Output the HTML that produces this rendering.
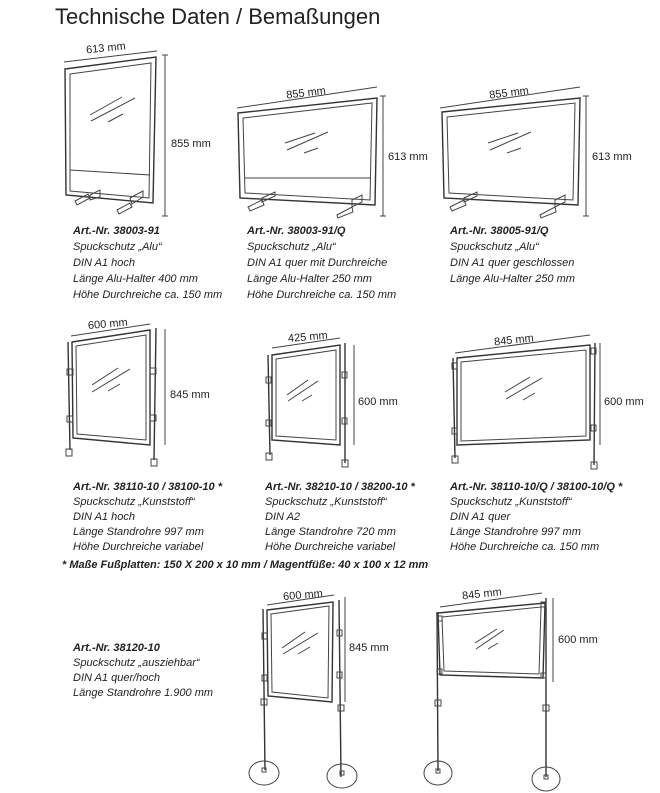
<!DOCTYPE html>
<html><head><meta charset="utf-8"><style>
html,body{margin:0;padding:0;background:#fff;}
svg{display:block;}
.t{font-family:"Liberation Sans",sans-serif;fill:#222;}
.i{font-family:"Liberation Sans",sans-serif;font-style:italic;font-size:11px;fill:#222;}
.b{font-weight:bold;}
.d{font-family:"Liberation Sans",sans-serif;font-size:11px;fill:#222;}
.s{fill:none;stroke:#333;stroke-width:1.4;}
.f{fill:none;stroke:#444;stroke-width:1;}
</style></head><body>
<svg width="660" height="793" viewBox="0 0 660 793">
<text x="55" y="24" class="t" font-size="22" fill="#333">Technische Daten / Bemaßungen</text>

<!-- Panel 1 -->
<polygon class="s" points="65,69 156,57 153,203 66,195"/>
<polygon class="f" points="70,74 151,63 149,198 70,191"/>
<line class="f" x1="70" y1="170" x2="150" y2="175"/>
<line class="f" x1="90" y1="115" x2="122" y2="97"/><line class="f" x1="91" y1="121" x2="135" y2="98"/><line class="f" x1="108" y1="122" x2="123" y2="114"/>
<polygon class="f" points="75,201 88,194 90,198 77,205"/><polygon class="f" points="90,195 100,190 100,197 90,200"/>
<polygon class="f" points="117,210 130,203 132,207 119,214"/><polygon class="f" points="130,198 143,191 143,197 132,204"/>
<line class="f" x1="64" y1="62" x2="157" y2="51"/>
<text x="86" y="52" class="d" transform="rotate(-6 100 48)">613 mm</text>
<line class="f" x1="165" y1="55" x2="165" y2="216"/><line class="f" x1="162" y1="55" x2="168" y2="55"/><line class="f" x1="162" y1="216" x2="168" y2="216"/>
<text x="171" y="147" class="d">855 mm</text>
<text class="i" x="73" y="234"><tspan class="b">Art.-Nr. 38003-91</tspan><tspan x="73" dy="16">Spuckschutz „Alu“</tspan><tspan x="73" dy="16">DIN A1 hoch</tspan><tspan x="73" dy="16">Länge Alu-Halter 400 mm</tspan><tspan x="73" dy="16">Höhe Durchreiche ca. 150 mm</tspan></text>

<!-- Panel 2 -->
<polygon class="s" points="238,113 377,98 375,205 240,198"/>
<polygon class="f" points="243,118 372,103 370,200 245,193"/>
<line class="f" x1="245" y1="178" x2="371" y2="178"/>
<line class="f" x1="285" y1="143" x2="315" y2="133"/><line class="f" x1="287" y1="150" x2="328" y2="132"/><line class="f" x1="304" y1="153" x2="318" y2="148"/>
<polygon class="f" points="248,207 262,200 264,205 250,211"/><polygon class="f" points="262,198 275,192 275,196 262,202"/>
<polygon class="f" points="337,215 352,207 353,212 338,218"/><polygon class="f" points="352,200 362,195 362,202 352,207"/>
<line class="f" x1="237" y1="108" x2="377" y2="87"/>
<text x="286" y="97" class="d" transform="rotate(-7 300 92)">855 mm</text>
<line class="f" x1="383" y1="96" x2="383" y2="216"/><line class="f" x1="380" y1="96" x2="386" y2="96"/><line class="f" x1="380" y1="216" x2="386" y2="216"/>
<text x="388" y="160" class="d">613 mm</text>
<text class="i" x="247" y="234"><tspan class="b">Art.-Nr. 38003-91/Q</tspan><tspan x="247" dy="16">Spuckschutz „Alu“</tspan><tspan x="247" dy="16">DIN A1 quer mit Durchreiche</tspan><tspan x="247" dy="16">Länge Alu-Halter 250 mm</tspan><tspan x="247" dy="16">Höhe Durchreiche ca. 150 mm</tspan></text>

<!-- Panel 3 -->
<polygon class="s" points="442,112 580,98 578,205 444,198"/>
<polygon class="f" points="447,117 575,103 573,200 449,193"/>
<line class="f" x1="488" y1="143" x2="518" y2="133"/><line class="f" x1="490" y1="150" x2="531" y2="132"/><line class="f" x1="507" y1="153" x2="521" y2="148"/>
<polygon class="f" points="450,207 464,200 466,205 452,211"/><polygon class="f" points="464,198 477,192 477,196 464,202"/>
<polygon class="f" points="540,215 555,207 556,212 541,218"/><polygon class="f" points="555,200 565,195 565,202 555,207"/>
<line class="f" x1="440" y1="108" x2="580" y2="87"/>
<text x="489" y="97" class="d" transform="rotate(-7 503 92)">855 mm</text>
<line class="f" x1="586" y1="96" x2="586" y2="216"/><line class="f" x1="583" y1="96" x2="589" y2="96"/><line class="f" x1="583" y1="216" x2="589" y2="216"/>
<text x="592" y="160" class="d">613 mm</text>
<text class="i" x="450" y="234"><tspan class="b">Art.-Nr. 38005-91/Q</tspan><tspan x="450" dy="16">Spuckschutz „Alu“</tspan><tspan x="450" dy="16">DIN A1 quer geschlossen</tspan><tspan x="450" dy="16">Länge Alu-Halter 250 mm</tspan></text>

<!-- Panel 4 -->
<polygon class="s" points="72,342 150,330 150,445 73,438"/>
<polygon class="f" points="76,346 146,335 146,440 77,434"/>
<line class="s" x1="68" y1="342" x2="70" y2="450"/><line class="s" x1="156" y1="328" x2="154" y2="460"/>
<rect x="66" y="449" width="6" height="7" class="f"/><rect x="151" y="459" width="6" height="7" class="f"/>
<rect x="67" y="369" width="6" height="6" class="f"/><rect x="67" y="416" width="6" height="6" class="f"/>
<rect x="150" y="368" width="6" height="6" class="f"/><rect x="150" y="415" width="6" height="6" class="f"/>
<line class="f" x1="92" y1="385" x2="118" y2="368"/><line class="f" x1="92" y1="392" x2="130" y2="369"/><line class="f" x1="108" y1="391" x2="120" y2="384"/>
<line class="f" x1="71" y1="336" x2="150" y2="324"/>
<text x="88" y="328" class="d" transform="rotate(-5 100 325)">600 mm</text>
<line class="f" x1="165" y1="329" x2="165" y2="445"/>
<text x="170" y="398" class="d">845 mm</text>
<text class="i" x="73" y="490"><tspan class="b">Art.-Nr. 38110-10 / 38100-10 *</tspan><tspan x="73" dy="15">Spuckschutz „Kunststoff“</tspan><tspan x="73" dy="15">DIN A1 hoch</tspan><tspan x="73" dy="15">Länge Standrohre 997 mm</tspan><tspan x="73" dy="15">Höhe Durchreiche variabel</tspan></text>

<!-- Panel 5 -->
<polygon class="s" points="272,355 340,345 340,445 272,440"/>
<polygon class="f" points="276,359 336,350 336,440 276,436"/>
<line class="s" x1="268" y1="355" x2="270" y2="455"/><line class="s" x1="345" y1="343" x2="345" y2="463"/>
<rect x="266" y="453" width="6" height="7" class="f"/><rect x="342" y="460" width="6" height="7" class="f"/>
<rect x="266" y="377" width="5" height="6" class="f"/><rect x="266" y="420" width="5" height="6" class="f"/>
<rect x="342" y="372" width="5" height="6" class="f"/><rect x="342" y="418" width="5" height="6" class="f"/>
<line class="f" x1="287" y1="395" x2="308" y2="380"/><line class="f" x1="288" y1="401" x2="318" y2="381"/><line class="f" x1="302" y1="401" x2="312" y2="395"/>
<line class="f" x1="272" y1="348" x2="340" y2="338"/>
<text x="288" y="341" class="d" transform="rotate(-5 300 338)">425 mm</text>
<line class="f" x1="354" y1="345" x2="354" y2="445"/>
<text x="358" y="405" class="d">600 mm</text>
<text class="i" x="265" y="490"><tspan class="b">Art.-Nr. 38210-10 / 38200-10 *</tspan><tspan x="265" dy="15">Spuckschutz „Kunststoff“</tspan><tspan x="265" dy="15">DIN A2</tspan><tspan x="265" dy="15">Länge Standrohre 720 mm</tspan><tspan x="265" dy="15">Höhe Durchreiche variabel</tspan></text>

<!-- Panel 6 -->
<polygon class="s" points="457,358 590,345 590,440 457,445"/>
<polygon class="f" points="461,362 586,350 586,436 461,441"/>
<line class="s" x1="453" y1="358" x2="455" y2="458"/><line class="s" x1="595" y1="343" x2="594" y2="465"/>
<rect x="452" y="456" width="6" height="7" class="f"/><rect x="591" y="462" width="6" height="7" class="f"/>
<rect x="452" y="363" width="5" height="6" class="f"/><rect x="452" y="428" width="5" height="6" class="f"/>
<rect x="591" y="348" width="5" height="6" class="f"/><rect x="591" y="425" width="5" height="6" class="f"/>
<line class="f" x1="505" y1="392" x2="530" y2="377"/><line class="f" x1="506" y1="399" x2="542" y2="378"/><line class="f" x1="523" y1="400" x2="535" y2="393"/>
<line class="f" x1="455" y1="353" x2="590" y2="335"/>
<text x="494" y="344" class="d" transform="rotate(-6 508 340)">845 mm</text>
<line class="f" x1="600" y1="343" x2="600" y2="445"/>
<text x="604" y="405" class="d">600 mm</text>
<text class="i" x="450" y="490"><tspan class="b">Art.-Nr. 38110-10/Q / 38100-10/Q *</tspan><tspan x="450" dy="15">Spuckschutz „Kunststoff“</tspan><tspan x="450" dy="15">DIN A1 quer</tspan><tspan x="450" dy="15">Länge Standrohre 997 mm</tspan><tspan x="450" dy="15">Höhe Durchreiche ca. 150 mm</tspan></text>

<text class="i b" x="62" y="568" font-size="11.5">* Maße Fußplatten: 150 X 200 x 10 mm / Magentfüße: 40 x 100 x 12 mm</text>

<!-- Panel 7 -->
<text class="i" x="73" y="651"><tspan class="b">Art.-Nr. 38120-10</tspan><tspan x="73" dy="15">Spuckschutz „ausziehbar“</tspan><tspan x="73" dy="15">DIN A1 quer/hoch</tspan><tspan x="73" dy="15">Länge Standrohre 1.900 mm</tspan></text>
<polygon class="s" points="267,610 333,602 332,702 268,696"/>
<polygon class="f" points="271,614 329,606 328,698 272,692"/>
<line class="s" x1="263" y1="609" x2="265" y2="770"/><line class="s" x1="339" y1="600" x2="341" y2="777"/>
<rect x="261" y="699" width="6" height="6" class="f"/><rect x="338" y="705" width="6" height="6" class="f"/>
<rect x="262" y="633" width="5" height="6" class="f"/><rect x="262" y="675" width="5" height="6" class="f"/>
<rect x="337" y="630" width="5" height="6" class="f"/><rect x="337" y="672" width="5" height="6" class="f"/>
<ellipse class="f" cx="264" cy="773" rx="15" ry="12"/><ellipse class="f" cx="342" cy="776" rx="15" ry="12"/>
<rect x="262" y="768" width="4" height="4" class="f"/><rect x="340" y="771" width="4" height="4" class="f"/>
<line class="f" x1="282" y1="648" x2="305" y2="632"/><line class="f" x1="283" y1="654" x2="318" y2="633"/><line class="f" x1="298" y1="654" x2="310" y2="647"/>
<line class="f" x1="267" y1="605" x2="334" y2="595"/>
<text x="283" y="599" class="d" transform="rotate(-5 296 595)">600 mm</text>
<line class="f" x1="345" y1="597" x2="345" y2="702"/>
<text x="349" y="651" class="d">845 mm</text>

<!-- Panel 8 -->
<polygon class="s" points="438,613 545,603 543,678 440,675"/>
<polygon class="f" points="442,617 541,607 539,674 444,671"/>
<line class="s" x1="437" y1="612" x2="438" y2="771"/><line class="s" x1="546" y1="598" x2="546" y2="777"/>
<rect x="435" y="700" width="6" height="6" class="f"/><rect x="543" y="705" width="6" height="6" class="f"/>
<rect x="437" y="616" width="5" height="5" class="f"/><rect x="437" y="669" width="5" height="5" class="f"/>
<rect x="541" y="602" width="5" height="5" class="f"/><rect x="541" y="673" width="5" height="5" class="f"/>
<ellipse class="f" cx="438" cy="773" rx="14" ry="12"/><ellipse class="f" cx="546" cy="779" rx="14" ry="12"/>
<rect x="436" y="769" width="4" height="4" class="f"/><rect x="544" y="775" width="4" height="4" class="f"/>
<line class="f" x1="475" y1="643" x2="497" y2="629"/><line class="f" x1="476" y1="649" x2="504" y2="630"/><line class="f" x1="488" y1="649" x2="498" y2="643"/>
<line class="f" x1="440" y1="607" x2="542" y2="593"/>
<text x="462" y="598" class="d" transform="rotate(-6 475 594)">845 mm</text>
<line class="f" x1="553" y1="598" x2="553" y2="682"/>
<text x="558" y="643" class="d">600 mm</text>
</svg>
</body></html>
